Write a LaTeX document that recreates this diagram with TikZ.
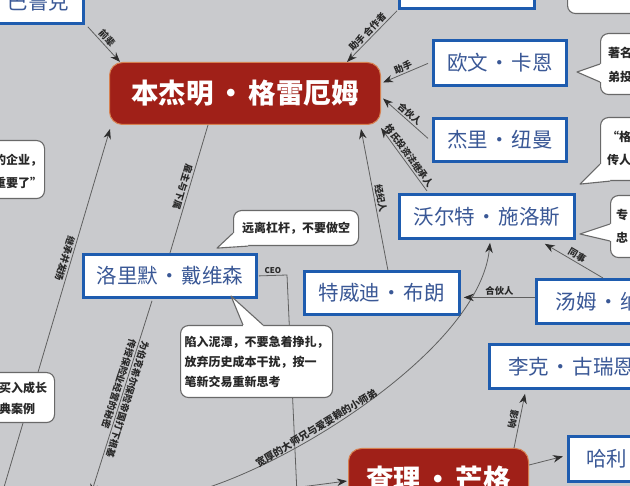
\documentclass[tikz,border=0pt]{standalone}
\usepackage{fontspec}
\setmainfont{Noto Sans CJK SC}
\usetikzlibrary{arrows.meta,calc}
\definecolor{bg}{RGB}{201,202,205}
\definecolor{boxblue}{RGB}{30,92,175}
\definecolor{boxtext}{RGB}{58,88,150}
\definecolor{benred}{RGB}{160,32,24}
\definecolor{rededge}{RGB}{214,128,80}
\definecolor{bubdraw}{RGB}{105,105,105}
\definecolor{bubtext}{RGB}{40,40,40}
\definecolor{edgecol}{RGB}{95,95,95}
\definecolor{tipcol}{RGB}{45,45,45}
\newcommand\mdot{\hspace{0.07em}·\hspace{0.07em}}
\newcommand\mdotb{\hspace{0.13em}·\hspace{0.13em}}
\begin{document}
\begin{tikzpicture}[x=1pt,y=-1pt,
  pbox/.style={draw=boxblue, line width=2.8pt, fill=white, text=boxtext, font=\fontsize{20.5}{24}\selectfont, inner sep=0pt, anchor=north west},
  rbox/.style={draw=rededge, line width=1pt, fill=benred, text=white, rounded corners=13pt, font=\bfseries\fontsize{27.5}{32}\selectfont, inner sep=0pt, anchor=north west},
  bub/.style={draw=bubdraw, line width=1.1pt, fill=white, rounded corners=8pt, inner sep=0pt, anchor=north west},
  btxt/.style={text=bubtext, font=\bfseries\fontsize{12}{14}\selectfont, inner sep=0pt},
  conn/.style={draw=edgecol, line width=0.8pt},
  arr/.style={conn, -{Stealth[length=10pt,width=7.5pt,color=tipcol]}},
  rarr/.style={conn, {Stealth[length=10pt,width=7.5pt,color=tipcol]}-},
  elab/.style={font=\bfseries\fontsize{9.3}{10}\selectfont, text=bubtext, inner sep=1.5pt},
  ptr/.style={draw=bubdraw, line width=1.1pt, line join=round},
]
\useasboundingbox (0,0) rectangle (630,486);
\fill[bg] (0,0) rectangle (630,486);
\clip (0,0) rectangle (630,486);

% ---- boxes
\node[pbox, minimum width=90, minimum height=44] (baluke) at (-8,-22) {巴鲁克};
\node[pbox, minimum width=135, minimum height=50] (topbox) at (398,-43) {};
\node[rbox, minimum width=271, minimum height=62] (ben) at (109,62) {本杰明\mdotb 格雷厄姆};
\node[pbox, minimum width=133, minimum height=45] (ouwen) at (432,39) {欧文\mdot 卡恩};
\node[pbox, minimum width=133, minimum height=43] (jieli) at (432,117) {杰里\mdot 纽曼};
\node[pbox, minimum width=175, minimum height=44] (woerte) at (398,193) {沃尔特\mdot 施洛斯};
\node[pbox, minimum width=173, minimum height=43] (luolimo) at (82,253) {洛里默\mdot 戴维森};
\node[pbox, minimum width=155, minimum height=43] (tewei) at (303,270) {特威迪\mdot 布朗};
\node[pbox, minimum width=144, minimum height=44] (tangmu) at (535,278) {汤姆\mdot 纳普};
\node[pbox, minimum width=164, minimum height=44] (like) at (488,343) {李克\mdot 古瑞恩};
\node[pbox, minimum width=77, minimum height=45] (hali) at (567,435) {哈利};
\node[rbox, minimum width=180, minimum height=62] (chali) at (348,448) {查理\mdotb 芒格};

% ---- free ends
\coordinate (jcfree) at (2,494);
\coordinate (lfree) at (91,494);
\coordinate (ceobend) at (287,275);
\coordinate (ceofree) at (297,494);
\coordinate (cfree) at (200,490);
\coordinate (chfree) at (262,492);

% ---- connectors
\draw[arr] ($(baluke.south east)+(3,2)$) -- node[elab, sloped, above, pos=0.45]{前辈} ($(ben.north west)+(11,0)$);
\draw[arr] ($(topbox.south west)+(-1,1)$) -- node[elab, sloped, above]{助手 合作者} ($(ben.north east)+(-34,0)$);
\draw[arr] ($(ouwen.west)+(-4,0.5)$) -- node[elab, sloped, above]{助手} ($(ben.east)+(2,-11)$);
\draw[arr] ($(jieli.west)+(-4,-1.5)$) -- node[elab, sloped, above]{合伙人} ($(ben.east)+(2,5)$);
\draw[arr] ($(woerte.north west)+(29,-2)$) -- node[elab, sloped, above]{格氏投资法继承人} ($(ben.south east)+(0,3)$);
\draw[arr] ($(tewei.north)+(6,0)$) -- node[elab, sloped, above]{经纪人} ($(ben.south east)+(-20,4)$);
\draw[conn] ($(ben.south west)+(99,0)$) -- node[elab, sloped, allow upside down, below]{雇主与下属} ($(luolimo.north west)+(88,0)$);
\draw[rarr] ($(ben.south west)+(1,4)$) -- node[elab, sloped, allow upside down, below, pos=0.36]{继承并发扬} (jcfree);
\draw[arr] ($(luolimo.south west)+(70,2)$) -- node[elab, sloped, allow upside down, above, pos=0.5]{为伯克希尔保险帝国打下根基} node[elab, sloped, allow upside down, below, pos=0.44]{传授保险业经营的秘密} (lfree);
\draw[conn] ($(luolimo.east)+(1,0)$) -- node[elab, above, font=\bfseries\fontsize{8}{9}\selectfont]{CEO} (ceobend) -- (ceofree);
\draw[arr] (cfree) .. controls (300,460) and (480,345) .. node[elab, sloped, above, pos=0.34, font=\bfseries\fontsize{10}{11}\selectfont]{宽厚的大师兄与爱耍赖的小师弟} ($(woerte.south west)+(92,3)$);
\draw[arr] ($(tangmu.north west)+(68,0)$) -- node[elab, sloped, above]{同事} ($(woerte.south east)+(-31,4)$);
\draw[arr] ($(tangmu.west)+(0,-4)$) -- node[elab, above]{合伙人} ($(tewei.east)+(3,4.5)$);
\draw[rarr] ($(like.south west)+(37,4)$) -- node[elab, sloped, allow upside down, below]{影响} ($(chali.north east)+(-15,0)$);
\draw[arr] ($(chali.north east)+(0,17)$) -- ($(hali.west)+(-4,-2.5)$);
\draw[arr] (chfree) -- ($(chali.north west)+(-1,33)$);

% ---- bubbles
\node[bub, minimum width=104, minimum height=58] (bl1) at (-60,140) {};
\node[btxt, anchor=west, align=left, font=\bfseries\fontsize{12}{23}\selectfont] (bl1t) at (-6,171.5) {的企业，\\重要了”};
\node[bub, minimum width=114, minimum height=50] (bl2) at (-60,372) {};
\node[btxt, anchor=west, align=left, font=\bfseries\fontsize{12}{21}\selectfont] (bl2t) at (-1,398.5) {买入成长\\典案例};
\node[bub, btxt, minimum width=125, minimum height=35] (bfar) at (233,210) {远离杠杆，不要做空};
\node[bub, btxt, align=left, minimum width=152, minimum height=72, font=\bfseries\fontsize{12}{20}\selectfont] (bmud) at (180,325) {陷入泥潭，不要急着挣扎，\\放弃历史成本干扰，按一\\笔新交易重新思考};
\node[bub, minimum width=100, minimum height=61] (bow) at (600,33) {};
\node[btxt, anchor=west, align=left, font=\bfseries\fontsize{12}{24}\selectfont] (bowt) at (608,65) {著名\\弟投};
\node[bub, minimum width=100, minimum height=63] (bwt1) at (600,117) {};
\node[btxt, anchor=west, align=left, font=\bfseries\fontsize{12}{23}\selectfont] (bwt1t) at (607,148.5) {“格\\传人};
\node[bub, minimum width=90, minimum height=62] (bwt2) at (610,195) {};
\node[btxt, anchor=west, align=left, font=\bfseries\fontsize{12}{23}\selectfont] (bwt2t) at (616,226.5) {专\\忠};
\node[bub, minimum width=133, minimum height=53] (btop) at (567,-40) {};

% ---- bubble pointers
\fill[white] ($(bfar.south west)+(3,-13)$) -- ($(bfar.south west)+(0,-13)$) -- ($(bfar.south west)+(-16,2)$) -- ($(bfar.south west)+(15,0)$) -- ($(bfar.south west)+(15,-3)$) -- cycle;
\draw[ptr] ($(bfar.south west)+(0,-13)$) -- ($(bfar.south west)+(-16,2)$) -- ($(bfar.south west)+(15,0)$);
\fill[white] ($(bmud.north west)+(63,2)$) -- ($(bmud.north west)+(63,0)$) -- ($(bmud.north west)+(51,-29)$) -- ($(bmud.north west)+(83,0)$) -- ($(bmud.north west)+(83,2)$) -- cycle;
\draw[ptr] ($(bmud.north west)+(63,0)$) -- ($(bmud.north west)+(51,-29)$) -- ($(bmud.north west)+(83,0)$);
\fill[white] ($(bow.north west)+(2,31)$) -- ($(bow.north west)+(0,31)$) -- ($(bow.north west)+(-23,39)$) -- ($(bow.north west)+(0,49)$) -- ($(bow.north west)+(2,49)$) -- cycle;
\draw[ptr] ($(bow.north west)+(0,31)$) -- ($(bow.north west)+(-23,39)$) -- ($(bow.north west)+(0,49)$);
\fill[white] ($(bwt1.south west)+(2,-17)$) -- ($(bwt1.south west)+(0,-17)$) -- ($(bwt1.south west)+(-20,3)$) -- ($(bwt1.south west)+(10,0)$) -- ($(bwt1.south west)+(10,-3)$) -- cycle;
\draw[ptr] ($(bwt1.south west)+(0,-17)$) -- ($(bwt1.south west)+(-20,3)$) -- ($(bwt1.south west)+(10,0)$);
\fill[white] ($(bwt2.north west)+(2,29)$) -- ($(bwt2.north west)+(0,29)$) -- ($(bwt2.north west)+(-30,39)$) -- ($(bwt2.north west)+(0,46)$) -- ($(bwt2.north west)+(2,46)$) -- cycle;
\draw[ptr] ($(bwt2.north west)+(0,29)$) -- ($(bwt2.north west)+(-30,39)$) -- ($(bwt2.north west)+(0,46)$);
\end{tikzpicture}
\end{document}
